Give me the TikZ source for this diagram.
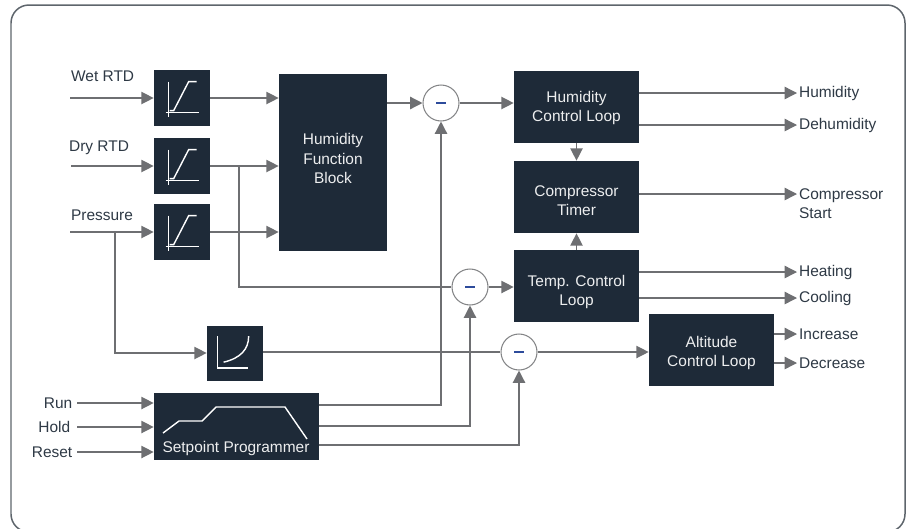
\documentclass[tikz,border=0pt]{standalone}
\usepackage{fontspec}
\setmainfont{Liberation Sans}
\usepackage{xcolor}
\usepackage{tikz}
\usetikzlibrary{arrows.meta,positioning}

\definecolor{blockfill}{HTML}{1E2A38}
\definecolor{wiregray}{HTML}{6E6F72}
\definecolor{labeltext}{HTML}{2E3945}
\definecolor{minusblue}{HTML}{2D4B9B}
\definecolor{framegray}{HTML}{5E656C}

\tikzset{
  blk/.style={fill=blockfill, inner sep=0pt},
  blktext/.style={text=white!92!blockfill, align=center, inner sep=0pt},
  sensor/.style={blk, minimum width=1.12cm, minimum height=1.12cm},
  loopbox/.style={blk, minimum width=2.5cm, minimum height=1.44cm},
  sumcircle/.style={circle, draw=wiregray!85, line width=0.6pt, fill=white,
    minimum size=0.72cm, inner sep=0pt},
  wire/.style={draw=wiregray, line width=0.75pt},
  arr/.style={wire, -{Triangle[length=7pt,width=7pt]}},
  lbl/.style={text=labeltext, inner sep=1pt},
}
\newcommand{\minusbar}{\textcolor{minusblue}{\rule{0.2cm}{1.6pt}}}

\begin{document}
\begin{tikzpicture}[x=0.02cm, y=-0.02cm, font=\fontsize{8.8}{11}\selectfont]
    \useasboundingbox (0,0) rectangle (908,528);
    \clip (0,0) rectangle (908,528);
    \draw[framegray, line width=0.85pt, rounded corners=0.36cm] (11,5) rectangle (905,532);

    % sensor inputs
    \node[sensor] (wet) at (182,98) {};
    \node[sensor] (dry) at (182,166) {};
    \node[sensor] (pres) at (182,232) {};
    \node[blk, minimum width=2.16cm, minimum height=3.54cm] (hfb) at (333,162.5) {};
    \node[sensor, minimum height=1.1cm] (alt) at (235,353) {};
    \node[blk, minimum width=3.3cm, minimum height=1.34cm] (sp) at (236.5,426.5) {};

    % loops
    \node[loopbox] (hcl) at (576.5,107) {};
    \node[loopbox] (ct) at (576.5,197) {};
    \node[loopbox] (tcl) at (576.5,286) {};
    \node[loopbox] (acl) at (711.5,350) {};

    \node[blktext] (hfbtext) at (333,158.5) {Humidity\\Function\\Block};
    \node[blktext] (hcltext) at (576.5,108) {Humidity\\Control Loop};
    \node[blktext] (cttext) at (576.5,201) {Compressor\\Timer};
    \node[blktext] (tcltext) at (576.5,292) {Temp. Control\\Loop};
    \node[blktext] (acltext) at (711.5,353) {Altitude\\Control Loop};

    \node[sumcircle] (sum1) at (441,103) {\minusbar};
    \node[sumcircle] (sum2) at (470,287) {\minusbar};
    \node[sumcircle] (sum3) at (519,352) {\minusbar};

    % icons
    \foreach \s in {wet,dry,pres} {
      \begin{scope}[shift={(\s.north west)}, white, line width=0.8pt]
        \draw (15,12) -- (15,47);
        \draw (12,43) -- (45,43);
        \draw (16,41) -- (20,41) -- (35,12) -- (43,12);
      \end{scope}
    }
    \begin{scope}[shift={(alt.north west)}, white, line width=0.8pt]
      \draw (11,11) -- (11,43) -- (41,43);
      \draw (17,37) .. controls (34,33) and (42,24) .. (42,11);
    \end{scope}
    \draw[white, line width=0.8pt] (163,433) -- (179,421) -- (202,421) -- (216,407) -- (285,407) -- (307,439);
    \node[blktext] (sptext) at (236,448) {Setpoint Programmer};

    % labels
    \node[lbl, anchor=west] (wetl) at (69,76) {Wet RTD};
    \node[lbl, anchor=west] (dryl) at (67,148) {Dry RTD};
    \node[lbl, anchor=west] (presl) at (69,215) {Pressure};
    \node[lbl, anchor=east, inner sep=2.5pt] (run) at (77,403) {Run};
    \node[lbl, anchor=east, inner sep=2.5pt] (hold) at (75,427) {Hold};
    \node[lbl, anchor=east, inner sep=2.5pt] (reset) at (77,452) {Reset};

    \node[lbl, anchor=west] (humout) at (797,93) {Humidity};
    \node[lbl, anchor=west] (dehout) at (797,125) {Dehumidity};
    \node[lbl, anchor=west, align=left] (cstart) at (797,204) {Compressor\\Start};
    \node[lbl, anchor=west] (heat) at (797,272) {Heating};
    \node[lbl, anchor=west] (cool) at (797,298) {Cooling};
    \node[lbl, anchor=west] (incr) at (797,334) {Increase};
    \node[lbl, anchor=west] (decr) at (797,363) {Decrease};

    \coordinate (wetin) at (70,98);
    \coordinate (dryin) at (71,166);
    \coordinate (presin) at (70,232);
    \coordinate (drytap) at (239,166);
    \coordinate (prestap) at (115,232);

    % connectors
    \draw[arr] (wetin) -- (wet.west);
    \draw[arr] (dryin) -- (dry.west);
    \draw[arr] (presin) -- (pres.west);
    \draw[arr] (wet.east) -- (wet.east -| hfb.west);
    \draw[arr] (dry.east) -- (dry.east -| hfb.west);
    \draw[arr] (pres.east) -- (pres.east -| hfb.west);
    \draw[wire] (drytap) |- (sum2.west);
    \draw[arr] (prestap) |- (alt.west);
    \draw[arr] (hfb.east |- sum1) -- (sum1.west);
    \draw[arr] (sum1.east) -- (sum1.east -| hcl.west);
    \draw[arr] (sum2.east) -- (sum2.east -| tcl.west);
    \draw[wire] (alt.east |- sum3) -- (sum3.west);
    \draw[arr] (sum3.east) -- (sum3.east -| acl.west);
    \draw[arr] (hcl.south) -- (ct.north);
    \draw[arr] (tcl.north) -- (ct.south);

    \draw[arr] (hcl.east |- humout) -- (humout.west);
    \draw[arr] (hcl.east |- dehout) -- (dehout.west);
    \draw[arr] (ct.east |- 0,194) -- (cstart.west |- 0,194);
    \draw[arr] (tcl.east |- heat) -- (heat.west);
    \draw[arr] (tcl.east |- cool) -- (cool.west);
    \draw[arr] (acl.east |- incr) -- (incr.west);
    \draw[arr] (acl.east |- decr) -- (decr.west);

    \draw[arr] (run.east) -- (run.east -| sp.west);
    \draw[arr] (hold.east -| run.east) -- (hold.east -| sp.west);
    \draw[arr] (reset.east) -- (reset.east -| sp.west);
    \draw[arr] (sp.east |- 0,405) -| (sum1.south);
    \draw[arr] (sp.east |- 0,426) -| (sum2.south);
    \draw[arr] (sp.east |- 0,445) -| (sum3.south);
\end{tikzpicture}
\end{document}
